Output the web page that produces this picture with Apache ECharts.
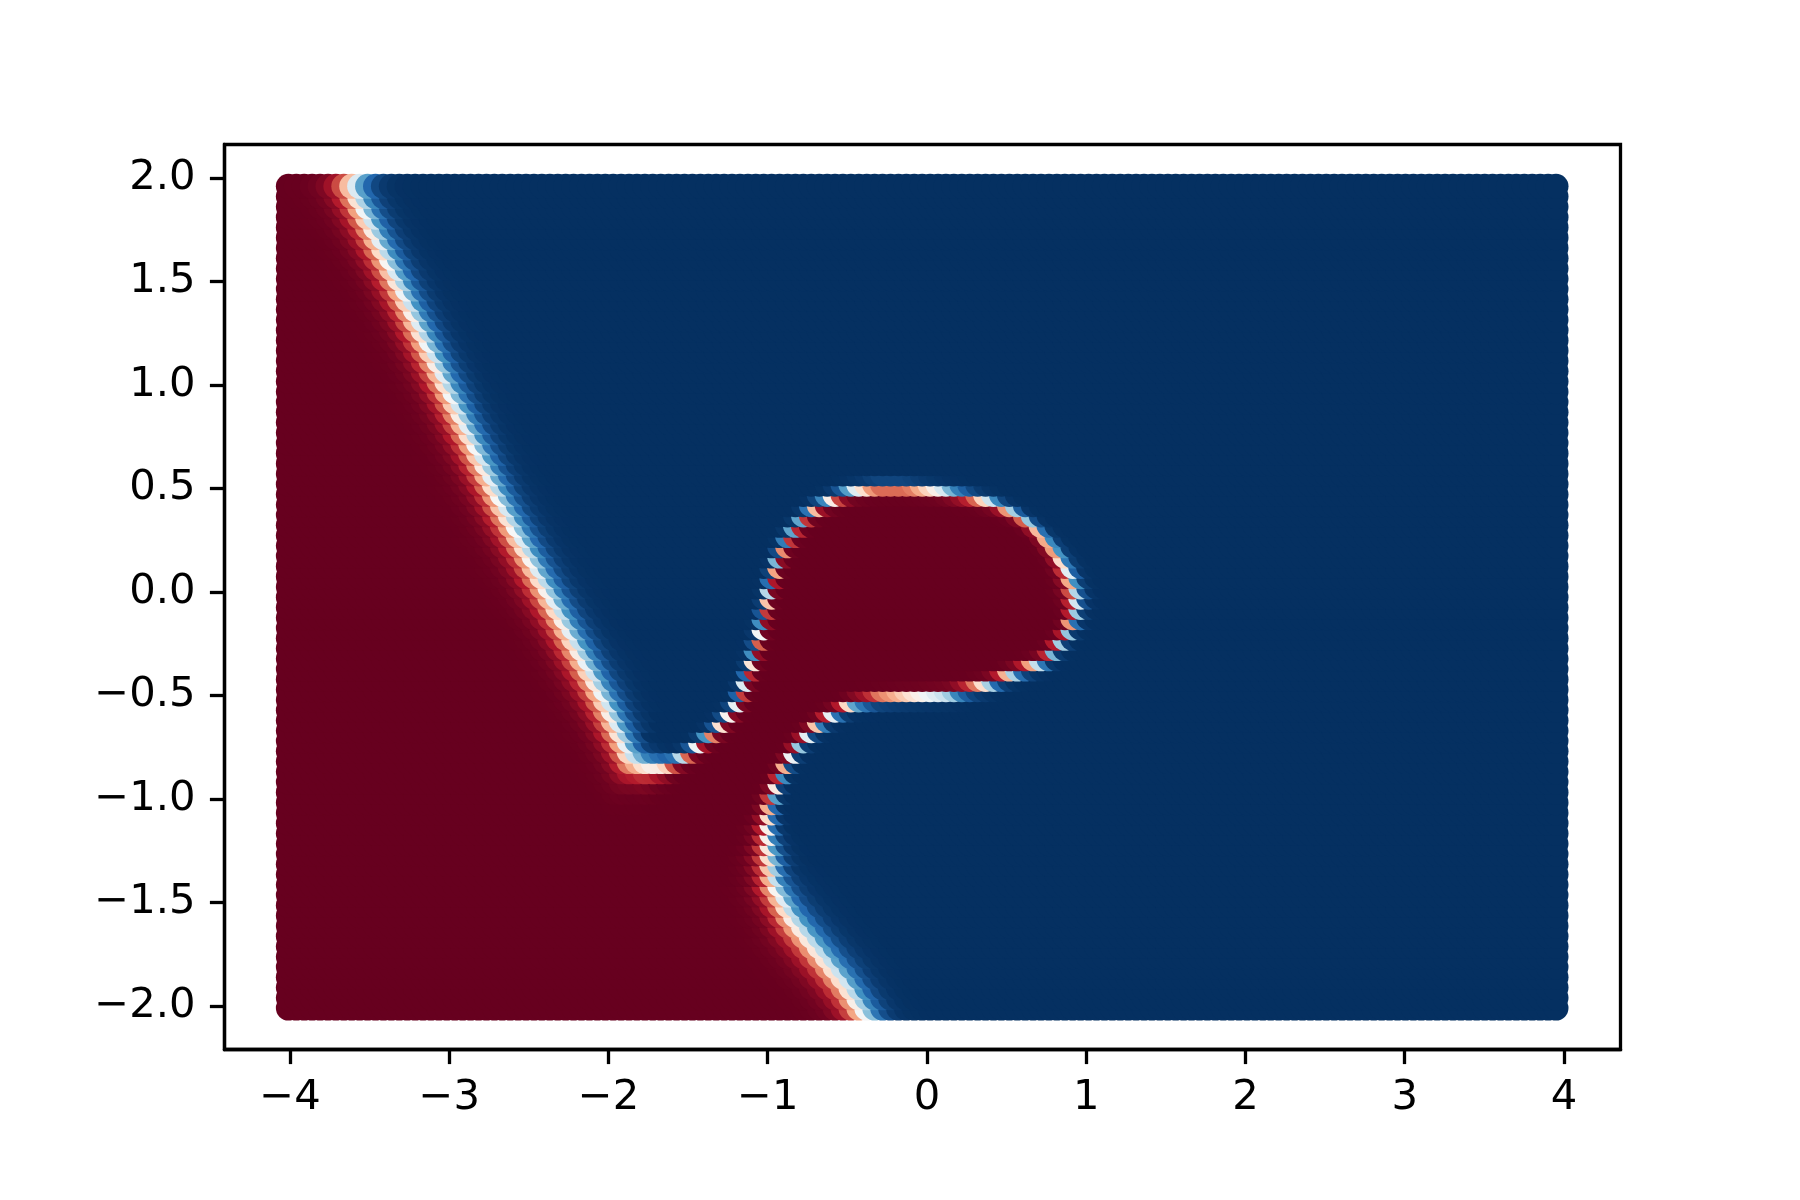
<!DOCTYPE html>
<html><head><meta charset="utf-8">
<script src="https://cdn.jsdelivr.net/npm/echarts@6/dist/echarts.min.js"></script>
<style>html,body{margin:0;padding:0;background:#fff}#c{width:1800px;height:1200px}</style>
</head><body><div id="c"></div>
<script>
// Tick labels
const xTicks = [-4, -3, -2, -1, 0, 1, 2, 3, 4];
const yTicks = [-2, -1.5, -1, -0.5, 0, 0.5, 1, 1.5, 2];

// Evaluation grid (meshgrid of the classifier)
const gridXStart = -4.01, gridXEnd = 3.95, gridXCount = 161;
const gridYStart = -2.01, gridYEnd = 1.96, gridYCount = 81;

// Decision boundary (red class inside), with local softness
const boundaryX = [-3.99, -3.59, -3.236, -2.65, -1.991, -1.844, -1.75, -1.64, -1.55, -1.467,
  -1.30, -1.17, -1.11, -1.06, -1.01, -0.97, -0.93, -0.885, -0.83, -0.75,
  -0.67, -0.56, -0.45, -0.30, -0.10, 0.10, 0.30, 0.45, 0.60, 0.72,
  0.84, 0.92, 0.96, 0.95, 0.90, 0.77, 0.55, 0.40, 0.16, -0.08,
  -0.28, -0.44, -0.58, -0.68, -0.78, -0.86, -0.91, -0.96, -0.975, -0.965,
  -0.94, -0.83, -0.66, -0.49, -0.36, -0.18, -5.0, -5.0];
const boundaryY = [2.6, 1.98, 1.411, 0.444, -0.522, -0.78, -0.815, -0.815, -0.79, -0.75,
  -0.64, -0.52, -0.40, -0.28, -0.13, 0.02, 0.14, 0.23, 0.30, 0.38,
  0.435, 0.48, 0.515, 0.535, 0.535, 0.52, 0.49, 0.46, 0.40, 0.33,
  0.22, 0.11, 0.0, -0.09, -0.18, -0.30, -0.37, -0.42, -0.465, -0.475,
  -0.485, -0.51, -0.57, -0.63, -0.71, -0.81, -0.89, -1.0, -1.14, -1.25,
  -1.39, -1.55, -1.713, -1.874, -2.035, -2.40, -2.6, 2.6];
const boundarySoftness = [0.045, 0.045, 0.045, 0.045, 0.045, 0.04, 0.03, 0.02, 0.012, 0.011,
  0.011, 0.011, 0.011, 0.011, 0.011, 0.011, 0.011, 0.011, 0.011, 0.011,
  0.011, 0.011, 0.011, 0.011, 0.011, 0.011, 0.011, 0.011, 0.011, 0.012,
  0.016, 0.02, 0.022, 0.016, 0.012, 0.011, 0.011, 0.011, 0.011, 0.011,
  0.011, 0.011, 0.011, 0.011, 0.011, 0.011, 0.012, 0.016, 0.025, 0.035,
  0.04, 0.045, 0.045, 0.045, 0.045, 0.045, 0.045, 0.045];

const rdbu = ['#67001f', '#b2182b', '#d6604d', '#f4a582', '#fddbc7', '#f7f7f7',
  '#d1e5f0', '#92c5de', '#4393c3', '#2166ac', '#053061'];

function insidePoly(px, py) {
  let inside = false;
  const n = boundaryX.length;
  for (let i = 0, j = n - 1; i < n; j = i++) {
    const xi = boundaryX[i], yi = boundaryY[i], xj = boundaryX[j], yj = boundaryY[j];
    if ((yi > py) !== (yj > py) && px < (xj - xi) * (py - yi) / (yj - yi) + xi) inside = !inside;
  }
  return inside;
}
function probability(px, py) {
  const n = boundaryX.length;
  let best = Infinity, bestW = 0.045;
  for (let i = 0; i < n; i++) {
    const j = (i + 1) % n;
    const ax = boundaryX[i], ay = boundaryY[i], bx = boundaryX[j], by = boundaryY[j];
    const dx = bx - ax, dy = by - ay;
    const L = dx * dx + dy * dy;
    let t = L > 0 ? ((px - ax) * dx + (py - ay) * dy) / L : 0;
    t = Math.max(0, Math.min(1, t));
    const qx = ax + t * dx - px, qy = ay + t * dy - py;
    const d = Math.sqrt(qx * qx + qy * qy);
    if (d < best) { best = d; bestW = boundarySoftness[i] * (1 - t) + boundarySoftness[j] * t; }
  }
  const sd = insidePoly(px, py) ? -best : best;
  return 1 / (1 + Math.exp(-sd / bestW));
}

const points = [];
for (let r = 0; r < gridYCount; r++) {
  const y = gridYStart + (gridYEnd - gridYStart) * r / (gridYCount - 1);
  for (let c = 0; c < gridXCount; c++) {
    const x = gridXStart + (gridXEnd - gridXStart) * c / (gridXCount - 1);
    points.push([x, y, probability(x, y)]);
  }
}

const font = 'DejaVu Sans';
const chart = echarts.init(document.getElementById('c'), null, { renderer: 'canvas' });
chart.setOption({
  animation: false,
  backgroundColor: '#ffffff',
  grid: { left: 224.5, right: 179.5, top: 144.5, bottom: 150.5, show: true,
    borderColor: '#000', borderWidth: 3.3, backgroundColor: 'transparent' },
  xAxis: {
    type: 'value', min: -4.411, max: 4.355,
    splitLine: { show: false },
    axisLine: { show: true, onZero: false, lineStyle: { color: '#000', width: 3.3 } },
    axisTick: { show: true, customValues: xTicks, length: 14.6, lineStyle: { color: '#000', width: 3.3 } },
    axisLabel: { customValues: xTicks, fontFamily: font, fontSize: 41.7, color: '#000', margin: 28,
      formatter: v => String(v).replace('-', '\u2212') }
  },
  yAxis: {
    type: 'value', min: -2.210, max: 2.162,
    splitLine: { show: false },
    axisLine: { show: true, onZero: false, lineStyle: { color: '#000', width: 3.3 } },
    axisTick: { show: true, customValues: yTicks, length: 14.6, lineStyle: { color: '#000', width: 3.3 } },
    axisLabel: { customValues: yTicks, fontFamily: font, fontSize: 41.7, color: '#000', margin: 29,
      formatter: v => Number(v).toFixed(1).replace('-', '\u2212') }
  },
  visualMap: { show: false, type: 'continuous', min: 0, max: 1, dimension: 2, inRange: { color: rdbu } },
  series: [{
    type: 'scatter', data: points, symbol: 'circle', symbolSize: 25,
    large: false, progressive: 0, silent: true,
    itemStyle: { opacity: 1 }
  }]
});
</script></body></html>
